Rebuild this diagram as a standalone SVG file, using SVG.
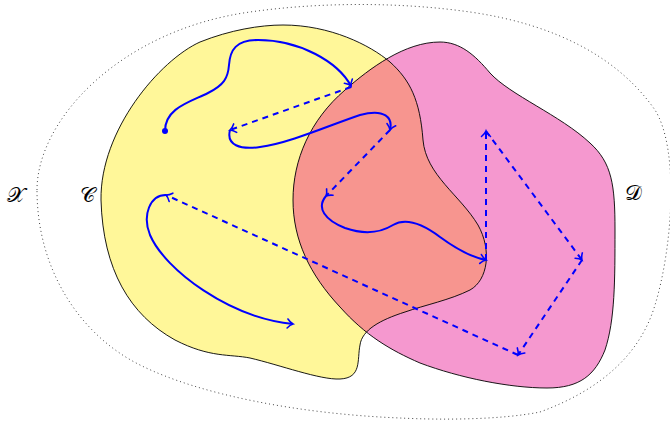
<svg xmlns="http://www.w3.org/2000/svg" width="670" height="425" viewBox="0 0 670 425">
<style>
.lbl{font-family:"DejaVu Serif","Liberation Serif",serif;font-size:21px;fill:#000}
.outline{fill:none;stroke:#000;stroke-width:0.9}
.blue{fill:none;stroke:#0000ff;stroke-width:2}
.dash{stroke-dasharray:6 5}
</style>
<defs>
<marker id="to" markerUnits="userSpaceOnUse" markerWidth="14" markerHeight="14" refX="0" refY="0" viewBox="-8 -7 10 14" orient="auto" overflow="visible">
<path d="M -5.5,-4.5 C -3.5,-2 -1.5,-0.6 0,0 C -1.5,0.6 -3.5,2 -5.5,4.5" fill="none" stroke="#0000ff" stroke-width="1.6" stroke-linecap="round"/>
</marker>
<path id="pC" d="M 283,25 C 330,25 370,45 390,62 C 410,80 420,100 423,140 C 426,175 460,195 478,225 C 492,250 488,280 470,290 C 450,300 425,305 405,312 C 380,320 362,330 360,345 C 357,360 362,378 340,379 C 320,380 280,365 250,358 C 230,354 210,358 175,340 C 130,315 103,270 101,200 C 100,130 160,60 200,42 C 230,30 260,25 283,25 Z"/>
<path id="pD" d="M 440,42 C 460,42 475,55 490,73 C 510,95 560,115 590,143 C 612,163 615,185 615,230 C 615,280 615,320 605,350 C 595,375 580,388 547,388 C 510,388 460,378 420,363 C 390,350 365,335 340,307 C 310,275 293,240 293,200 C 293,160 310,120 345,90 C 370,68 405,42 440,42 Z"/>
<clipPath id="clipD"><use href="#pD"/></clipPath>
</defs>
<rect width="670" height="425" fill="#fff"/>
<g id="X">
<path d="M 37,190 C 37,120 120,30 250,12 C 320,2 400,2 470,12 C 560,25 620,60 655,110 C 680,150 672,250 655,305 C 640,355 600,390 540,412 C 500,420 440,420 400,418 C 300,414 200,395 140,365 C 80,335 37,270 37,190 Z" fill="none" stroke="#444" stroke-width="1" stroke-dasharray="1 3"/>
<text class="lbl" x="16" y="202" text-anchor="middle">𝒳</text>
</g>
<g id="C">
<use href="#pC" fill="#fff799"/>
<text class="lbl" x="87" y="202" text-anchor="middle">𝒞</text>
</g>
<g id="D">
<use href="#pD" fill="#f598cf"/>
<text class="lbl" x="633" y="200" text-anchor="middle">𝒟</text>
</g>
<g id="CD">
<use href="#pC" fill="#f7958f" clip-path="url(#clipD)"/>
<use href="#pC" class="outline"/>
<use href="#pD" class="outline"/>
</g>
<g id="connectors">
<circle cx="165" cy="131" r="3" fill="#0000ff"/>
<path class="blue" marker-end="url(#to)" d="M 165,131 C 165,108 190,102 208,93 C 224,85 228,78 229,65 C 230,50 236,40 258,40 C 300,40 338,62 351,86"/>
<path class="blue dash" marker-end="url(#to)" d="M 351,87 L 230,130"/>
<path class="blue" marker-end="url(#to)" d="M 230,130 C 226,145 240,150 260,147 C 290,143 330,125 360,115 C 385,108 393,118 390,130"/>
<path class="blue dash" marker-end="url(#to)" d="M 390,130 L 326,196"/>
<path class="blue" marker-end="url(#to)" d="M 326,196 C 316,208 325,220 345,228 C 365,235 380,233 393,225 C 405,218 420,222 440,237 C 455,248 470,257 486,260"/>
<path class="blue dash" marker-end="url(#to)" d="M 486,260 L 486,131"/>
<path class="blue dash" marker-end="url(#to)" d="M 486,131 L 582,260"/>
<path class="blue dash" marker-end="url(#to)" d="M 582,260 L 518,355"/>
<path class="blue dash" marker-end="url(#to)" d="M 518,355 L 166,195"/>
<path class="blue" marker-end="url(#to)" d="M 166,195 C 150,195 142,215 150,235 C 165,270 230,318 293,324"/>
</g>
</svg>
